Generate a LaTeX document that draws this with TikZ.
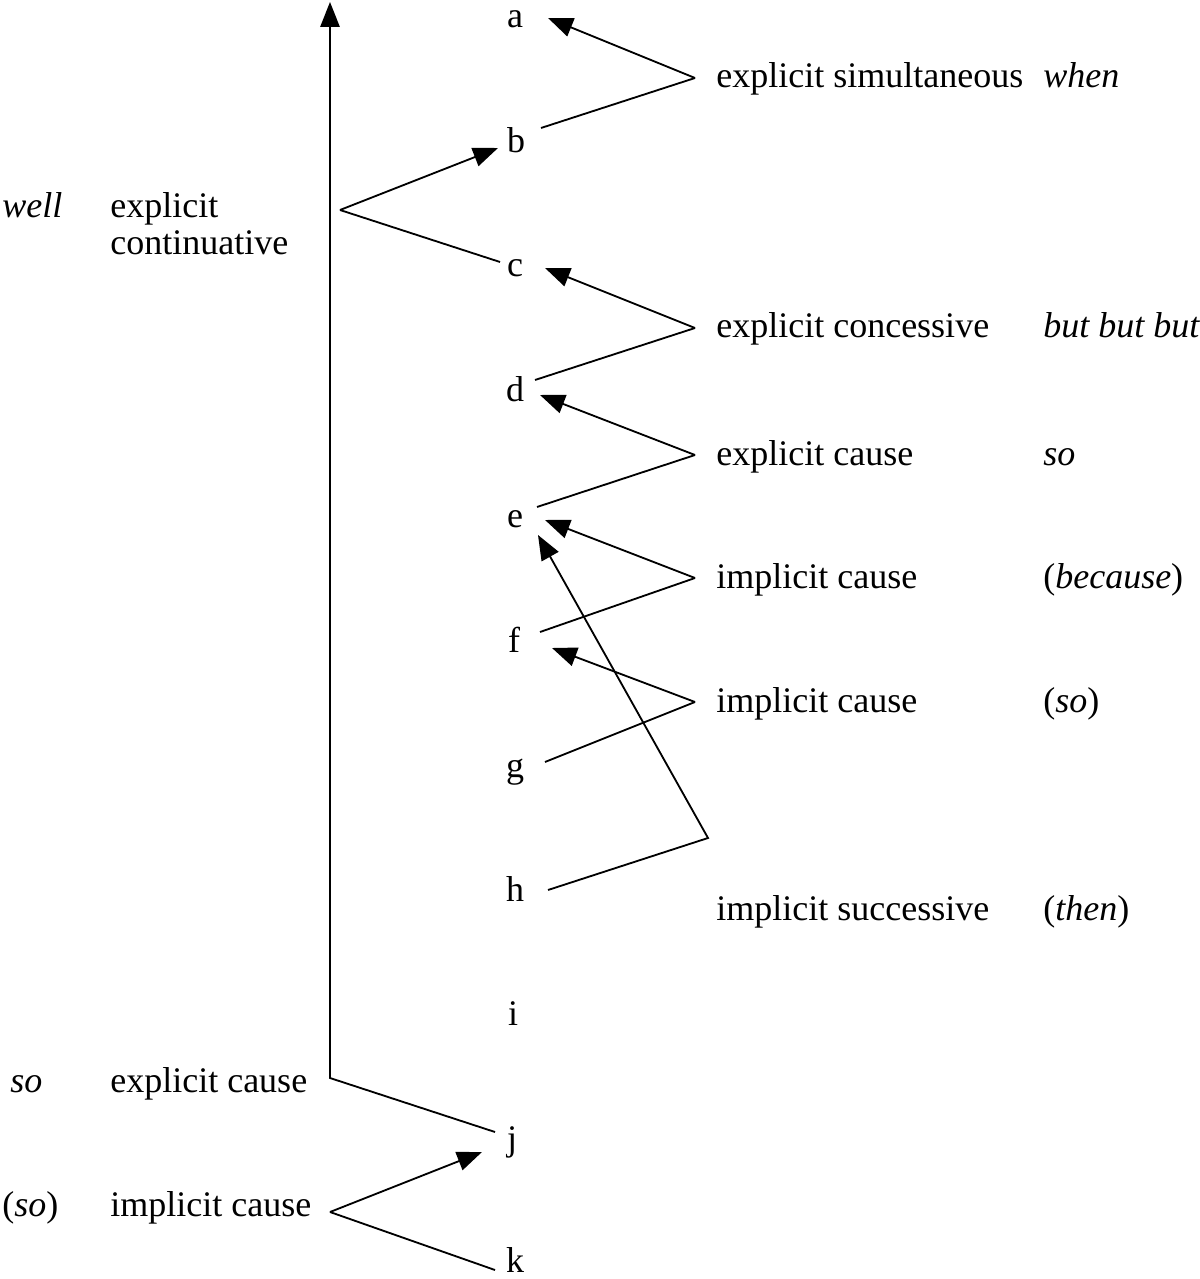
\documentclass[tikz,border=0pt]{standalone}
\usepackage{fontspec}
\setmainfont{Liberation Serif}
\usetikzlibrary{arrows.meta}
\begin{document}
\begin{tikzpicture}[x=0.025cm,y=-0.025cm,
  txt/.style={inner sep=0pt,font=\fontsize{25.6}{31}\selectfont},
  lbl/.style={txt,anchor=base west},
  ltr/.style={txt,anchor=base},
  con/.style={line width=1.3pt,line join=miter},
  arr/.style={con,-{Triangle[length=0.62cm,width=0.48cm]}}]
\useasboundingbox (0,0) rectangle (1200,1279);
% letters
\node[ltr] (a) at (515,28) {a};
\node[ltr] (b) at (516,153) {b};
\node[ltr] (c) at (515,277) {c};
\node[ltr] (d) at (515,401) {d};
\node[ltr] (e) at (515,527) {e};
\node[ltr] (f) at (514,652) {f};
\node[ltr] (g) at (515,777) {g};
\node[ltr] (h) at (515,901) {h};
\node[ltr] (i) at (513,1025) {i};
\node[ltr] (j) at (512,1150) {j};
\node[ltr] (k) at (515,1272) {k};
% right labels
\node[lbl] (r1) at (716,88) {explicit simultaneous};
\node[lbl] (r1i) at (1043,88) {\textit{when}};
\node[lbl] (r2) at (716,338) {explicit concessive};
\node[lbl] (r2i) at (1043,338) {\textit{but but but}};
\node[lbl] (r3) at (716,465) {explicit cause};
\node[lbl] (r3i) at (1043,465) {\textit{so}};
\node[lbl] (r4) at (716,588) {implicit cause};
\node[lbl] (r4i) at (1043,588) {(\textit{because}\/)};
\node[lbl] (r5) at (716,712) {implicit cause};
\node[lbl] (r5i) at (1043,712) {(\textit{so})};
\node[lbl] (r6) at (716,920) {implicit successive};
\node[lbl] (r6i) at (1043,920) {(\textit{then}\/)};
% left labels
\node[lbl] (l1i) at (2,218) {\textit{well}};
\node[lbl] (l1) at (110,218) {explicit};
\node[lbl] (l1b) at (110,255) {continuative};
\node[lbl] (l2i) at (10,1092) {\textit{so}};
\node[lbl] (l2) at (110,1092) {explicit cause};
\node[lbl] (l3i) at (2,1216) {(\textit{so})};
\node[lbl] (l3) at (110,1216) {implicit cause};
% vertices and ends
\coordinate (v1) at (695,78);
\coordinate (v2) at (695,328);
\coordinate (v3) at (695,455);
\coordinate (v4) at (695,578);
\coordinate (v5) at (695,702);
\coordinate (v6) at (708,838);
\coordinate (vl) at (340,210);
\coordinate (vj) at (330,1212);
\coordinate (corner) at (330,1078);
\coordinate (top) at (330,2);
% connectors
\draw[arr] (v1) -- ([shift={(33,-10)}]a.base);
\draw[con] ([shift={(25,-25)}]b.base) -- (v1);
\draw[arr] (vl) -- ([shift={(-18,-5)}]b.base);
\draw[con] (vl) -- ([shift={(-15,-15)}]c.base);
\draw[arr] (v2) -- ([shift={(30,-9)}]c.base);
\draw[con] ([shift={(20,-21)}]d.base) -- (v2);
\draw[arr] (v3) -- ([shift={(25,-6)}]d.base);
\draw[con] ([shift={(22,-20)}]e.base) -- (v3);
\draw[arr] (v4) -- ([shift={(30,-7)}]e.base);
\draw[con] ([shift={(26,-20)}]f.base) -- (v4);
\draw[arr] (v5) -- ([shift={(38,-4)}]f.base);
\draw[con] ([shift={(30,-15)}]g.base) -- (v5);
\draw[arr] ([shift={(33,-11)}]h.base) -- (v6) -- ([shift={(23,8)}]e.base);
\draw[arr] ([shift={(-17,-18)}]j.base) -- (corner) -- (top);
\draw[arr] (vj) -- ([shift={(-30,2)}]j.base);
\draw[con] (vj) -- ([shift={(-20,-2)}]k.base);
\end{tikzpicture}
\end{document}
